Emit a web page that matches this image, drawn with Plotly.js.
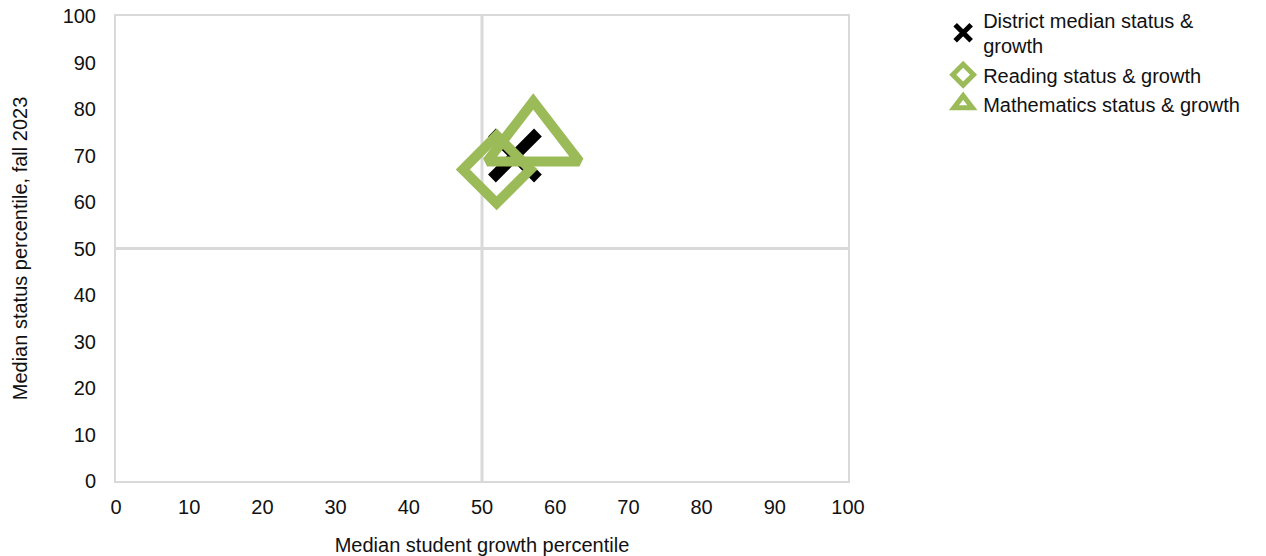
<!DOCTYPE html>
<html>
<head>
<meta charset="utf-8">
<script src="https://cdn.plot.ly/plotly-3.0.1.min.js"></script>
<style>html,body{margin:0;padding:0;background:#fff;}#chart{width:1266px;height:556px;}</style>
</head>
<body>
<div id="chart"></div>
<script>
// Data
const seriesNames = ["District median status &<br>growth", "Reading status & growth", "Mathematics status & growth"];
const growthX = [54.5, 52, 57];   // median student growth percentile
const statusY = [70, 67, 73];     // median status percentile, fall 2023
const tickVals = [0, 10, 20, 30, 40, 50, 60, 70, 80, 90, 100];
const midLine = 50;

const green = "#9BBB59";
const font = {family: "Liberation Sans, Arial, sans-serif", size: 20, color: "#111"};

const traces = [
  {x: [growthX[0]], y: [statusY[0]], name: seriesNames[0], type: "scatter", mode: "markers",
   marker: {symbol: "x-thin", size: 46, color: "#000", line: {color: "#000", width: 11}}},
  {x: [growthX[1]], y: [statusY[1]], name: seriesNames[1], type: "scatter", mode: "markers",
   marker: {symbol: "diamond-open", size: 52, color: green, line: {color: green, width: 10}}},
  {x: [growthX[2]], y: [statusY[2]], name: seriesNames[2], type: "scatter", mode: "markers",
   marker: {symbol: "triangle-up-open", size: 80, color: green, line: {color: green, width: 10}}}
];

const axisCommon = {
  range: [0, 100], tickvals: tickVals, ticktext: tickVals.map(String),
  showgrid: false, zeroline: false, showline: true, mirror: true,
  linecolor: "#D9D9D9", linewidth: 2, ticks: "", tickfont: font, fixedrange: true
};

const layout = {
  width: 1266, height: 556,
  margin: {l: 116, r: 418, t: 16, b: 75, autoexpand: false},
  paper_bgcolor: "#fff", plot_bgcolor: "#fff",
  font: font,
  showlegend: true,
  legend: {x: 1.13, xanchor: "left", y: 1.034, yanchor: "top",
           font: font, tracegroupgap: 0, itemwidth: 30, bgcolor: "rgba(0,0,0,0)"},
  xaxis: Object.assign({}, axisCommon, {
    ticklabelstandoff: 7,
    title: {text: "Median student growth percentile", font: font, standoff: 21}
  }),
  yaxis: Object.assign({}, axisCommon, {
    ticklabelstandoff: 14,
    title: {text: "Median status percentile, fall 2023", font: font, standoff: 30}
  }),
  shapes: [
    {type: "line", xref: "x", yref: "paper", x0: midLine, x1: midLine, y0: 0, y1: 1,
     line: {color: "#D9D9D9", width: 3}, layer: "below"},
    {type: "line", xref: "paper", yref: "y", x0: 0, x1: 1, y0: midLine, y1: midLine,
     line: {color: "#D9D9D9", width: 3}, layer: "below"}
  ]
};

Plotly.newPlot("chart", traces, layout, {displayModeBar: false, staticPlot: true});
</script>
</body>
</html>
